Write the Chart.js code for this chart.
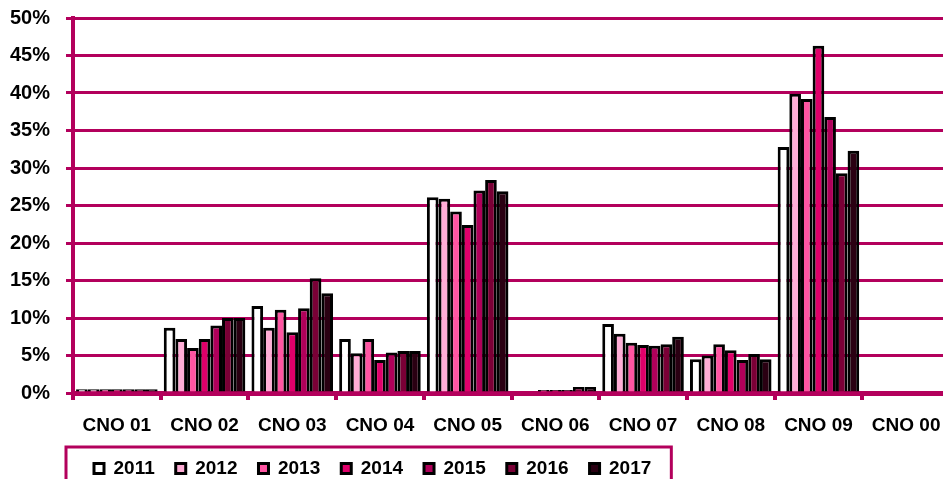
<!DOCTYPE html>
<html>
<head>
<meta charset="utf-8">
<script src="https://cdn.jsdelivr.net/npm/chart.js@4"></script>
<style>
  html, body { margin: 0; padding: 0; background: #fff; overflow: hidden; }
  #wrap { position: absolute; left: 0; top: 0; width: 955px; height: 500px; }
</style>
</head>
<body>
<div id="wrap"><canvas id="grafico"></canvas></div>
<script>
// categorias e valores (%)
const categorias = ['CNO 01', 'CNO 02', 'CNO 03', 'CNO 04', 'CNO 05', 'CNO 06', 'CNO 07', 'CNO 08', 'CNO 09', 'CNO 00'];
const anos = ['2011', '2012', '2013', '2014', '2015', '2016', '2017'];
const v2011 = [0.5, 8.7, 11.6, 7.2, 26.1, 0.0, 9.2, 4.5, 32.8, 0.2];
const v2012 = [0.5, 7.2, 8.7, 5.3, 25.9, 0.0, 7.9, 5.0, 39.9, 0.2];
const v2013 = [0.5, 6.0, 11.1, 7.2, 24.2, 0.4, 6.7, 6.5, 39.2, 0.2];
const v2014 = [0.5, 7.2, 8.1, 4.4, 22.4, 0.4, 6.4, 5.7, 46.3, 0.2];
const v2015 = [0.5, 9.0, 11.3, 5.4, 27.0, 0.4, 6.3, 4.4, 36.8, 0.2];
const v2016 = [0.5, 10.0, 15.3, 5.6, 28.4, 0.8, 6.5, 5.2, 29.3, 0.2];
const v2017 = [0.5, 10.0, 13.3, 5.6, 26.9, 0.8, 7.5, 4.5, 32.3, 0.2];
const ticksY = [0, 5, 10, 15, 20, 25, 30, 35, 40, 45, 50];

const series = [v2011, v2012, v2013, v2014, v2015, v2016, v2017];
const cores = ['#FFFFFF', '#FFADD6', '#FF55A2', '#E0006A', '#B0005A', '#7A0036', '#2A0012'];
const carmim = '#B3005C';

// moldura da legenda
const molduraLegenda = {
  id: 'molduraLegenda',
  afterDraw(chart) {
    const lg = chart.legend;
    const boxes = lg.legendHitBoxes;
    if (!boxes || !boxes.length) return;
    const last = boxes[boxes.length - 1];
    const ctx = chart.ctx;
    ctx.save();
    ctx.strokeStyle = carmim;
    ctx.lineWidth = 3;
    const x0 = chart.chartArea.left - 7;
    const x1 = last.left + last.width + 20;
    const y0 = lg.top + 9;
    ctx.strokeRect(x0, y0, x1 - x0, 80);
    ctx.restore();
  }
};

new Chart(document.getElementById('grafico'), {
  type: 'bar',
  data: {
    labels: categorias,
    datasets: anos.map((ano, i) => ({
      label: ano,
      data: series[i],
      backgroundColor: cores[i],
      borderColor: '#000000',
      borderWidth: 3,
      borderSkipped: 'bottom',
      categoryPercentage: 0.93,
      barPercentage: 1.0
    }))
  },
  options: {
    responsive: true,
    maintainAspectRatio: false,
    animation: false,
    devicePixelRatio: 1,
    layout: { padding: { top: 18, left: 0, right: 5, bottom: 12 } },
    plugins: {
      title: { display: false },
      tooltip: { enabled: false },
      legend: {
        position: 'bottom',
        align: 'start',
        fullSize: false,
        labels: {
          boxWidth: 10,
          boxHeight: 10,
          padding: 21,
          color: '#000',
          font: { family: 'Liberation Sans, Arial', size: 19, weight: 'bold' }
        }
      }
    },
    scales: {
      x: {
        grid: { drawOnChartArea: false, drawTicks: true, tickLength: 7, color: carmim, lineWidth: 4 },
        border: { color: carmim, width: 5 },
        ticks: {
          color: '#000',
          padding: 14,
          maxRotation: 0,
          autoSkip: false,
          font: { family: 'Liberation Sans, Arial', size: 19, weight: 'bold' }
        },
        afterFit(scale) { scale.height = 45; }
      },
      y: {
        min: 0,
        max: 50,
        afterBuildTicks(scale) { scale.ticks = ticksY.map(v => ({ value: v })); },
        grid: { color: carmim, lineWidth: 3, drawTicks: true, tickLength: 7 },
        border: { color: carmim, width: 4 },
        ticks: {
          color: '#000',
          padding: 16,
          font: { family: 'Liberation Sans, Arial', size: 20, weight: 'bold' },
          callback: v => v + '%'
        },
        afterFit(scale) {
          scale.width = 73;
          scale.paddingTop = 0;
          scale.paddingBottom = 0;
        }
      }
    }
  },
  plugins: [molduraLegenda]
});
</script>
</body>
</html>
